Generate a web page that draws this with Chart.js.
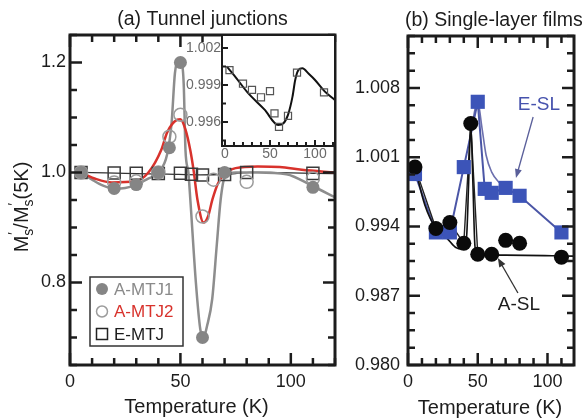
<!DOCTYPE html>
<html>
<head>
<meta charset="utf-8">
<script src="https://cdn.jsdelivr.net/npm/chart.js@4.4.1/dist/chart.umd.min.js"></script>
<style>
    html, body { margin: 0; padding: 0; background: #fff; }
    #wrap { position: relative; width: 584px; height: 418px; overflow: hidden; }
    #wrap canvas { position: absolute; left: 0; top: 0; }
</style>
</head>
<body>
<div id="wrap">
    <canvas id="junctions" width="584" height="418"></canvas>
    <canvas id="inset" width="584" height="418"></canvas>
    <canvas id="films" width="584" height="418"></canvas>
</div>
<script>
// (a) Tunnel junctions - measured points
const mtj1Temp = [5, 20, 30, 40, 45, 50, 60, 70, 110];
const mtj1Ratio = [1.0, 0.971, 0.978, 1.0, 1.045, 1.2, 0.70, 1.0, 0.973];
const mtj2Temp = [5, 20, 30, 40, 45, 50, 60, 65, 80, 110];
const mtj2Ratio = [1.0, 0.982, 0.984, 1.0, 1.065, 1.105, 0.92, 0.987, 0.983, 0.989];
const eMtjTemp = [5, 20, 30, 40, 50, 55, 60, 70, 80, 110];
const eMtjRatio = [1.0002, 0.9991, 0.9986, 0.9980, 0.9985, 0.9967, 0.9956, 0.9965, 1.0000, 0.9984];

// (a) guide curves
const mtj1FitTemp = [5, 10, 15, 20, 25, 30, 35, 40, 44, 46, 47.5, 49, 50.5, 51.5, 52.3, 53.6, 54.5, 57, 59, 60.5, 62, 64.4, 66.5, 68.2, 70, 75, 85, 98, 110, 120];
const mtj1FitRatio = [1.0, 0.987, 0.976, 0.971, 0.972, 0.978, 0.988, 1.0, 1.033, 1.09, 1.18, 1.203, 1.2, 1.16, 1.04, 1.0, 0.95, 0.80, 0.715, 0.70, 0.72, 0.77, 0.87, 0.95, 0.99, 1.0, 1.0, 0.997, 0.975, 0.955];
const mtj2FitTemp = [5, 12, 19, 29.5, 35.5, 41.4, 44, 48.6, 50, 52.3, 54.5, 56, 57.7, 60.5, 62.5, 64.5, 67, 70, 75, 85, 95, 105, 120];
const mtj2FitRatio = [1.0, 0.988, 0.982, 0.984, 1.0, 1.042, 1.073, 1.096, 1.097, 1.078, 1.04, 1.003, 0.951, 0.909, 0.92, 0.951, 0.98, 0.998, 1.008, 1.011, 1.01, 1.005, 1.0];
const eMtjFitTemp = [2, 10, 25, 44, 59, 65, 70, 75, 78, 81.5, 86, 93, 100, 111, 122];
const eMtjFitRatio = [1.0005, 0.9998, 0.9984, 0.9970, 0.99576, 0.9959, 0.99657, 0.99805, 0.9994, 1.0002, 1.00035, 0.9999, 0.9994, 0.99846, 0.99778];

// (b) Single-layer films
const eslTemp = [5, 20, 30, 40, 50, 55, 60, 70, 80, 110];
const eslRatio = [0.9993, 0.9934, 0.9934, 1.0000, 1.0066, 0.9978, 0.9974, 0.9979, 0.9971, 0.9934];
const eslFitTemp = [44, 50, 53, 56, 60, 65, 72];
const eslFitRatio = [1.0025, 1.0066, 1.0040, 1.0012, 0.9995, 0.9985, 0.9978];
const aslTemp = [5, 20, 30, 40, 45, 50, 60, 70, 80, 110];
const aslRatio = [1.0000, 0.9938, 0.9944, 0.9923, 1.0044, 0.9912, 0.9912, 0.9926, 0.9923, 0.9909];
const aslFitTemp = [5, 12, 20, 28, 34, 39, 42, 43.5, 45, 46.5, 48, 50, 70, 120];
const aslFitRatio = [1.0000, 0.9962, 0.9938, 0.9928, 0.9919, 0.9917, 0.9930, 0.9985, 1.0044, 0.9985, 0.9920, 0.9911, 0.9911, 0.9910];

// tick labels
const tempTicks = [0, 50, 100];
const junctionTicks = [0.8, 1.0, 1.2];
const insetTicks = [0.996, 0.999, 1.002];
const filmTicks = [0.980, 0.987, 0.994, 1.001, 1.008];

const FONT = '"Liberation Sans", Arial, Helvetica, sans-serif';
const INK = '#1c1c1c';

const pts = (xs, ys) => xs.map((x, i) => ({ x, y: ys[i] }));

// Frame with inward ticks on the requested sides, plus tick labels
const frameAxes = {
    id: 'frameAxes',
    beforeDatasetsDraw(chart, args, o) {
        if (!o.fill) return;
        const a = chart.chartArea;
        chart.ctx.save();
        chart.ctx.fillStyle = o.fill;
        chart.ctx.fillRect(a.left, a.top, a.right - a.left, a.bottom - a.top);
        chart.ctx.restore();
    },
    afterDraw(chart, args, o) {
        const { ctx, chartArea: a } = chart;
        const x = chart.scales.x, y = chart.scales.y;
        const near = (v, list) => list.some(m => Math.abs(m - v) < 1e-6);
        ctx.save();
        ctx.strokeStyle = INK;
        ctx.lineWidth = o.tickWidth;
        ctx.beginPath();
        for (let k = 0; ; k++) {
            const v = o.xStart + k * o.xStep;
            if (v > x.max + 1e-9) break;
            const px = x.getPixelForValue(v);
            const len = near(v, o.xMajor) ? o.majorLen : o.minorLen;
            if (o.sides.includes('b')) { ctx.moveTo(px, a.bottom); ctx.lineTo(px, a.bottom - len); }
            if (o.sides.includes('t')) { ctx.moveTo(px, a.top); ctx.lineTo(px, a.top + len); }
        }
        for (let k = 0; ; k++) {
            const v = o.yStart + k * o.yStep;
            if (v > y.max + 1e-9) break;
            const py = y.getPixelForValue(v);
            const len = near(v, o.yMajor) ? o.majorLen : o.minorLen;
            if (o.sides.includes('l')) { ctx.moveTo(a.left, py); ctx.lineTo(a.left + len, py); }
            if (o.sides.includes('r')) { ctx.moveTo(a.right, py); ctx.lineTo(a.right - len, py); }
        }
        ctx.stroke();

        ctx.lineWidth = o.frameWidth;
        ctx.strokeRect(a.left, a.top, a.right - a.left, a.bottom - a.top);

        ctx.fillStyle = o.labelColor;
        ctx.font = o.font;
        ctx.textAlign = 'center';
        ctx.textBaseline = 'middle';
        o.xMajor.forEach(v => ctx.fillText(String(v), x.getPixelForValue(v), a.bottom + o.xGap));
        ctx.textAlign = 'right';
        o.yMajor.forEach(v => ctx.fillText(v.toFixed(o.yDigits), a.left - o.yGap, y.getPixelForValue(v)));
        ctx.restore();
    }
};

function arrow(ctx, x1, y1, x2, y2, color) {
    const ang = Math.atan2(y2 - y1, x2 - x1);
    ctx.save();
    ctx.strokeStyle = color;
    ctx.fillStyle = color;
    ctx.lineWidth = 1.3;
    ctx.beginPath();
    ctx.moveTo(x1, y1);
    ctx.lineTo(x2 - 6 * Math.cos(ang), y2 - 6 * Math.sin(ang));
    ctx.stroke();
    ctx.translate(x2, y2);
    ctx.rotate(ang);
    ctx.beginPath();
    ctx.moveTo(0, 0);
    ctx.lineTo(-9, -3.5);
    ctx.lineTo(-9, 3.5);
    ctx.closePath();
    ctx.fill();
    ctx.restore();
}

// Rotated y title: M'_s / M'_s (5K)
function drawRatioTitle(ctx, cx, cy) {
    const big = '20px ' + FONT, small = '14px ' + FONT;
    const parts = [
        ['M', big, 0, true], ['\u2032', small, -10, false], ['s', small, 5, true],
        ['/', big, 0, true],
        ['M', big, 0, true], ['\u2032', small, -10, false], ['s', small, 5, true],
        ['(5K)', big, 0, true]
    ];
    ctx.save();
    let total = 0;
    parts.forEach(p => { ctx.font = p[1]; if (p[3]) total += ctx.measureText(p[0]).width; });
    ctx.translate(cx, cy);
    ctx.rotate(-Math.PI / 2);
    ctx.fillStyle = INK;
    ctx.textBaseline = 'alphabetic';
    ctx.textAlign = 'left';
    let pos = -total / 2;
    parts.forEach(p => {
        ctx.font = p[1];
        ctx.fillText(p[0], pos + (p[3] ? 0 : 1), p[2]);
        if (p[3]) pos += ctx.measureText(p[0]).width;
    });
    ctx.restore();
}

const baseOptions = (padding, xr, yr, frame) => ({
    responsive: false,
    animation: false,
    events: [],
    layout: { padding },
    scales: {
        x: { type: 'linear', min: xr[0], max: xr[1], display: false },
        y: { type: 'linear', min: yr[0], max: yr[1], display: false }
    },
    plugins: { legend: { display: false }, tooltip: { enabled: false }, frameAxes: frame }
});

const curve = (xs, ys, color, width, order) => ({
    data: pts(xs, ys), showLine: true, pointRadius: 0, borderColor: color,
    borderWidth: width, cubicInterpolationMode: 'monotone', order
});

// ---- panel (a)
new Chart(document.getElementById('junctions'), {
    type: 'scatter',
    data: {
        datasets: [
            { data: pts(mtj1Temp, mtj1Ratio), pointRadius: 6.5, pointBackgroundColor: '#858585', pointBorderColor: '#858585', pointBorderWidth: 0, order: 0, clip: false },
            { data: pts(mtj2Temp, mtj2Ratio), pointRadius: 6.5, pointBackgroundColor: 'rgba(255,255,255,0)', pointBorderColor: '#9c9c9c', pointBorderWidth: 1.5, order: 1, clip: false },
            { data: pts(eMtjTemp, eMtjRatio), pointStyle: 'rect', pointRadius: 8.5, pointBackgroundColor: 'rgba(255,255,255,0)', pointBorderColor: '#3a3a3a', pointBorderWidth: 1.5, order: 2 },
            curve(mtj2FitTemp, mtj2FitRatio, '#d8322c', 2.5, 3),
            curve(mtj1FitTemp, mtj1FitRatio, '#8d8d8d', 2.5, 4),
            curve(eMtjFitTemp, eMtjFitRatio, '#333333', 1.3, 5)
        ]
    },
    options: baseOptions({ left: 70, top: 35, right: 249, bottom: 53 }, [0, 120], [0.65, 1.25], {
        sides: 'lbtr', xStart: 0, xStep: 10, xMajor: tempTicks,
        yStart: 0.65, yStep: 0.05, yMajor: junctionTicks, yDigits: 1,
        majorLen: 12, minorLen: 7, tickWidth: 2.5, frameWidth: 3,
        font: '18px ' + FONT, labelColor: INK, xGap: 17, yGap: 4
    }),
    plugins: [frameAxes, {
        id: 'junctionDecor',
        afterDraw(chart) {
            const { ctx, chartArea: a } = chart;
            ctx.save();
            ctx.fillStyle = INK;
            ctx.font = '19.5px ' + FONT;
            ctx.textAlign = 'center';
            ctx.textBaseline = 'middle';
            ctx.fillText('(a) Tunnel junctions', (a.left + a.right) / 2, 20);
            ctx.font = '20px ' + FONT;
            ctx.fillText('Temperature (K)', (a.left + a.right) / 2 - 6, 407);
            drawRatioTitle(ctx, 28, 207);

            // legend box
            const lx = 90, ly = 277, lw = 93, lh = 69;
            ctx.fillStyle = '#fff';
            ctx.fillRect(lx, ly, lw, lh);
            ctx.strokeStyle = '#333';
            ctx.lineWidth = 1.5;
            ctx.strokeRect(lx, ly, lw, lh);
            const rows = [
                ['A-MTJ1', '#8a8a8a', 'dot'],
                ['A-MTJ2', '#d8322c', 'ring'],
                ['E-MTJ', INK, 'square']
            ];
            ctx.font = '17px ' + FONT;
            ctx.textAlign = 'left';
            rows.forEach((r, i) => {
                const cy = ly + 12 + i * 22.5;
                const mx = lx + 12;
                ctx.beginPath();
                if (r[2] === 'dot') {
                    ctx.arc(mx, cy, 6, 0, Math.PI * 2);
                    ctx.fillStyle = '#858585';
                    ctx.fill();
                } else if (r[2] === 'ring') {
                    ctx.arc(mx, cy, 5.5, 0, Math.PI * 2);
                    ctx.strokeStyle = '#9c9c9c';
                    ctx.stroke();
                } else {
                    ctx.rect(mx - 5.5, cy - 5.5, 11, 11);
                    ctx.strokeStyle = '#222';
                    ctx.stroke();
                }
                ctx.fillStyle = r[1];
                ctx.fillText(r[0], lx + 24, cy + 1);
            });
            ctx.restore();
        }
    }]
});

// ---- inset of panel (a): E-MTJ on a finer scale
new Chart(document.getElementById('inset'), {
    type: 'scatter',
    data: {
        datasets: [
            { data: pts(eMtjTemp, eMtjRatio), pointStyle: 'rect', pointRadius: 5, pointBackgroundColor: 'rgba(255,255,255,0)', pointBorderColor: '#555', pointBorderWidth: 1.2, order: 0 },
            curve(eMtjFitTemp, eMtjFitRatio, '#111111', 2, 1)
        ]
    },
    options: baseOptions({ left: 222, top: 35, right: 249, bottom: 272 }, [-3.3, 122.2], [0.99405, 1.00305], {
        fill: '#ffffff',
        sides: 'lb', xStart: 0, xStep: 10, xMajor: tempTicks,
        yStart: 0.9945, yStep: 0.0015, yMajor: insetTicks, yDigits: 3,
        majorLen: 6, minorLen: 4, tickWidth: 2, frameWidth: 2,
        font: '14px ' + FONT, labelColor: '#6a6a6a', xGap: 8, yGap: 1
    }),
    plugins: [frameAxes]
});

// ---- panel (b)
new Chart(document.getElementById('films'), {
    type: 'scatter',
    data: {
        datasets: [
            { data: pts(aslTemp, aslRatio), pointRadius: 7.5, pointBackgroundColor: '#0a0a0a', pointBorderColor: '#0a0a0a', pointBorderWidth: 0, order: 0, clip: false },
            { data: pts(eslTemp, eslRatio), pointStyle: 'rect', pointRadius: 10, pointBackgroundColor: '#3c54b8', pointBorderColor: '#3c54b8', pointBorderWidth: 0, order: 1, clip: false },
            curve(aslFitTemp, aslFitRatio, '#111111', 1.6, 2),
            { data: pts(aslTemp.slice(0, 6), aslRatio.slice(0, 6)), showLine: true, pointRadius: 0, borderColor: '#222', borderWidth: 1.4, order: 3 },
            { data: pts(eslTemp, eslRatio), showLine: true, pointRadius: 0, borderColor: '#4b56a6', borderWidth: 2, order: 4 },
            curve(eslFitTemp, eslFitRatio, '#6c70ae', 1.6, 5)
        ]
    },
    options: baseOptions({ left: 408, top: 36, right: 2, bottom: 53 }, [0, 119], [0.980, 1.01325], {
        sides: 'lbtr', xStart: 0, xStep: 10, xMajor: tempTicks,
        yStart: 0.980, yStep: 0.00175, yMajor: filmTicks, yDigits: 3,
        majorLen: 12, minorLen: 7, tickWidth: 2.5, frameWidth: 3,
        font: '18px ' + FONT, labelColor: INK, xGap: 17, yGap: 8
    }),
    plugins: [frameAxes, {
        id: 'filmDecor',
        afterDraw(chart) {
            const { ctx, chartArea: a } = chart;
            const x = chart.scales.x, y = chart.scales.y;
            ctx.save();
            ctx.fillStyle = INK;
            ctx.font = '19.5px ' + FONT;
            ctx.textAlign = 'left';
            ctx.textBaseline = 'middle';
            ctx.fillText('(b) Single-layer films', a.left - 3, 21);
            ctx.textAlign = 'center';
            ctx.font = '20px ' + FONT;
            ctx.fillText('Temperature (K)', (a.left + a.right) / 2 - 1, 408);

            ctx.font = '19px ' + FONT;
            ctx.fillStyle = '#4652ad';
            ctx.fillText('E-SL', x.getPixelForValue(93.8), y.getPixelForValue(1.00628));
            arrow(ctx, x.getPixelForValue(89.7), y.getPixelForValue(1.00506),
                x.getPixelForValue(77.4), y.getPixelForValue(0.99890), '#5a5f9a');
            ctx.fillStyle = INK;
            ctx.fillText('A-SL', x.getPixelForValue(79.5), y.getPixelForValue(0.98606));
            arrow(ctx, x.getPixelForValue(78.8), y.getPixelForValue(0.98728),
                x.getPixelForValue(64.4), y.getPixelForValue(0.99081), '#333');
            ctx.restore();
        }
    }]
});
</script>
</body>
</html>
